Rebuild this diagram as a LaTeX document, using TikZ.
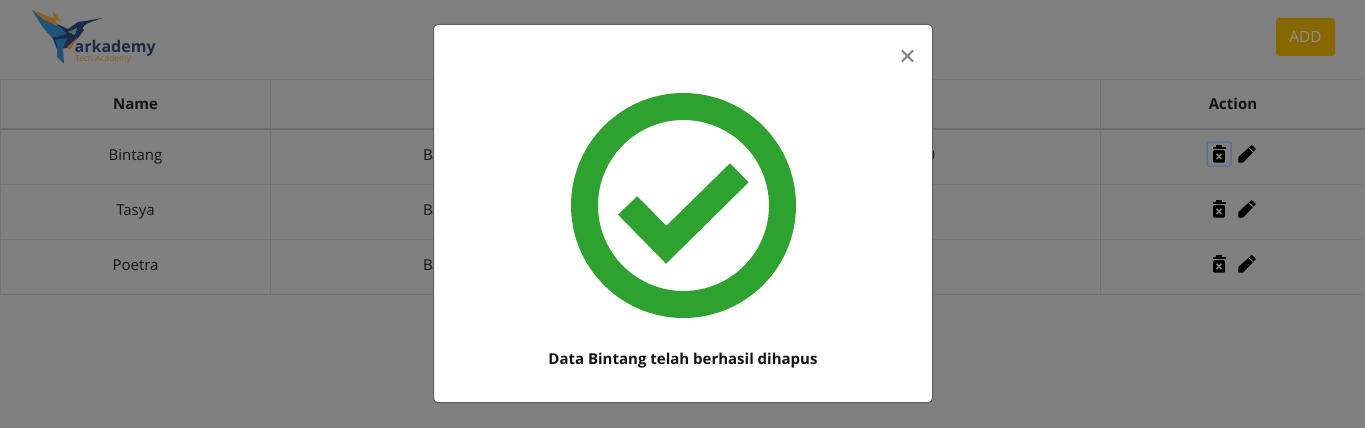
\documentclass[tikz,border=0pt]{standalone}
\usepackage{fontspec}
\setmainfont{Open Sans}
\definecolor{backdrop}{HTML}{808080}
\definecolor{gridline}{HTML}{737373}
\definecolor{headline}{HTML}{6C6C6C}
\definecolor{cellink}{HTML}{141414}
\definecolor{okgreen}{HTML}{2EA22F}
\definecolor{addfill}{HTML}{876800}
\definecolor{logonavy}{HTML}{1C2A48}
\definecolor{logoblue}{HTML}{1F5278}
\definecolor{logoteal}{HTML}{2F7F6C}
\definecolor{logoorange}{HTML}{8E5F20}
\definecolor{focusblue}{HTML}{5A7099}
\tikzset{
  gridrule/.style={gridline,line width=1pt},
  headrule/.style={headline,line width=2pt},
  celltext/.style={text=cellink,inner sep=0pt,anchor=base,font=\fontsize{15}{16}\selectfont},
  headtext/.style={text=cellink,inner sep=0pt,anchor=base,font=\fontsize{15}{16}\selectfont\bfseries},
  trashicon/.pic={
    \fill [black] (-6.5,6.8) rectangle (6.5,4.8);
    \fill [black] (-3,8.7) rectangle (3,6.8);
    \fill [black,rounded corners=1pt] (-5.8,3.8) rectangle (5.8,-8.7);
    \draw [backdrop,line width=1.6pt] (-2.5,0.2) -- (2.5,-5);
    \draw [backdrop,line width=1.6pt] (-2.5,-5) -- (2.5,0.2);
  },
  penicon/.pic={
    \fill [black] (-8.7,-8.7) -- (-8.7,-3) -- (4.7,9) -- (9,5) -- (-4,-8.7) -- cycle;
    \draw [backdrop,line width=0.9pt] (2,6) -- (6.3,2);
  }
}
\begin{document}
\begin{tikzpicture}[x=1pt,y=1pt]
    \useasboundingbox (0,0) rectangle (1365,-428);
    \fill [backdrop] (0,0) rectangle (1365,-428);
    % logo
    \fill [logonavy] (57,-24) -- (68,-29) -- (78,-22) -- (84,-30) -- (78,-38) -- (68,-48) -- (57,-49) -- (50,-32) -- cycle;
    \fill [logonavy] (78,-22) -- (86,-21) -- (102,-18) -- (86,-24) -- (80,-30) -- cycle;
    \fill [logoblue] (32,-10) -- (50,-20) -- (60,-27) -- (67,-34) -- (52,-38) -- (42,-26) -- cycle;
    \fill [logoorange] (32,-10) -- (55,-19) -- (58,-26) -- (44,-20) -- cycle;
    \fill [logoorange] (53,-11) -- (61,-21) -- (54,-19) -- cycle;
    \fill [logoteal] (68,-32) -- (77,-28) -- (75,-35) -- cycle;
    \fill [logoblue] (55,-40) -- (67,-38) -- (63,-48) -- (58,-48) -- cycle;
    \fill [logoorange] (67,-47) -- (78,-37) -- (70,-50) -- cycle;
    \fill [logoblue] (57,-48) -- (63,-49) -- (64,-64) -- (57,-57) -- cycle;
    \node (logoname) [anchor=west,inner sep=0pt,text=logonavy,font=\fontsize{16}{18}\selectfont\bfseries] at (74.5,-48) {arkademy};
    \node (logosub) [anchor=west,inner sep=0pt,text=logoorange,font=\fontsize{8.4}{9}\selectfont] at (75,-59.5) {Tech Academy};
    % add button
    \fill [addfill,rounded corners=3pt] (1276,-18) rectangle (1335,-56);
    \node (addbtn) [text=backdrop!90!white,inner sep=0pt,font=\fontsize{15.5}{16}\selectfont] at (1305.5,-37) {ADD};
    % table rules
    \draw [gridrule] (0,-79.5) -- (1365,-79.5);
    \draw [headrule] (0,-128.5) -- (1365,-128.5);
    \draw [gridrule] (0,-184.5) -- (1365,-184.5);
    \draw [gridrule] (0,-239.5) -- (1365,-239.5);
    \draw [gridrule] (0,-294.5) -- (1365,-294.5);
    \draw [gridrule] (0.5,-79.5) -- (0.5,-294.5);
    \draw [gridrule] (270.5,-79.5) -- (270.5,-294.5);
    \draw [gridrule] (1100.5,-79.5) -- (1100.5,-294.5);
    % table text
    \node (namehead) [headtext] at (135.5,-110) {Name};
    \node (actionhead) [headtext] at (1233,-110) {Action};
    \node (rowone) [celltext] at (135.5,-160) {Bintang};
    \node (rowtwo) [celltext] at (135.5,-215) {Tasya};
    \node (rowthree) [celltext] at (135.5,-270) {Poetra};
    \node (cityone) [celltext,anchor=base west] at (423,-160) {B\kern-0.8pt a};
    \node (citytwo) [celltext,anchor=base west] at (423,-215) {B\kern-0.8pt a};
    \node (citythree) [celltext,anchor=base west] at (423,-270) {B\kern-0.8pt a};
    \node (cutone) [celltext,anchor=base east] at (935.5,-160) {0};
    % icons
    \draw [focusblue,line width=1.5pt,rounded corners=1.5pt] (1207,-142) rectangle (1231,-166);
    \path (1219,-154) pic {trashicon};
    \path (1247,-154) pic {penicon};
    \path (1219,-209) pic {trashicon};
    \path (1247,-209) pic {penicon};
    \path (1219,-264) pic {trashicon};
    \path (1247,-264) pic {penicon};
    % modal
    \draw [fill=white,draw=black!62,line width=1pt,rounded corners=4pt] (433.5,-24.5) rectangle (932.5,-402.5);
    \draw [backdrop,line width=1.9pt] (902,-50.5) -- (913,-61.5);
    \draw [backdrop,line width=1.9pt] (902,-61.5) -- (913,-50.5);
    \fill [okgreen,even odd rule] (683.5,-205.5) circle (112.5) (683.5,-205.5) circle (85.5);
    \fill [okgreen] (618,-214.7) -- (637.1,-196.3) -- (666.4,-225.7) -- (730,-163.3) -- (748.6,-182.3) -- (666.1,-263.7) -- cycle;
    \node (donetext) [headtext] at (683,-364) {Data Bintang telah berhasil dihapus};
\end{tikzpicture}
\end{document}
